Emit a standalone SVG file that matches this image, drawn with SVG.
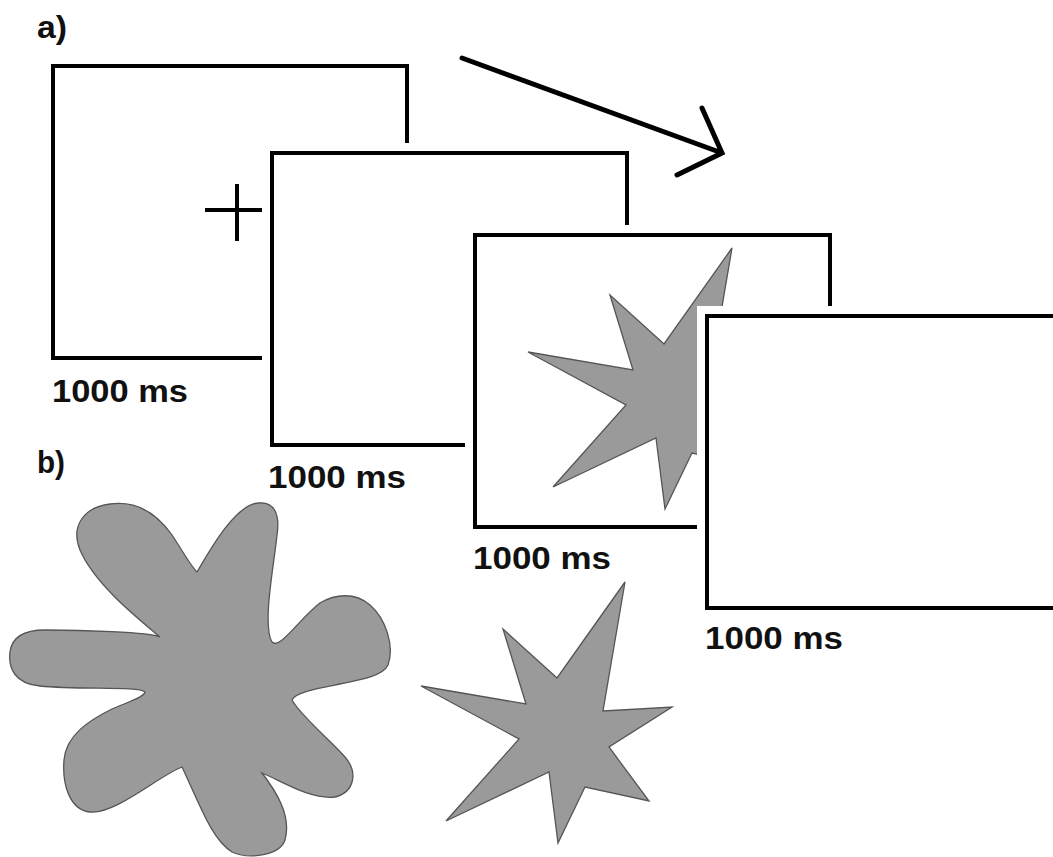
<svg xmlns="http://www.w3.org/2000/svg" width="1053" height="857" viewBox="0 0 1053 857">
<defs>
<style>
.frame{fill:#fff;stroke:#000;stroke-width:4}
.halo{fill:#fff;stroke:#fff;stroke-width:20}
.lbl{font-family:"Liberation Sans",Arial,sans-serif;font-weight:bold;font-size:32px;fill:#111}
.tag{font-family:"Liberation Sans",Arial,sans-serif;font-weight:bold;font-size:31px;fill:#111}
.shape{fill:#9a9a9a;stroke:#555;stroke-width:1.3;stroke-linejoin:miter}
</style>
<polygon id="star" points="625,582 557,678 503,629 526,704 421,686 519,739 446,821 549,772 558,843 585,787 649,801 609,747 672,707 603,711"/>
</defs>
<rect width="1053" height="857" fill="#fff"/>
<text class="tag" x="37" y="38" textLength="30" lengthAdjust="spacingAndGlyphs">a)</text>
<text class="tag" x="37" y="473" textLength="28" lengthAdjust="spacingAndGlyphs">b)</text>
<g id="frame1">
<rect class="halo" x="53" y="66" width="354" height="292"/>
<rect class="frame" x="53" y="66" width="354" height="292"/>
<path d="M205,210 H265 M237,184 V241" stroke="#000" stroke-width="4" fill="none"/>
<text class="lbl" x="52" y="402" textLength="136" lengthAdjust="spacingAndGlyphs">1000 ms</text>
</g>
<g id="frame2">
<rect class="halo" x="272" y="153" width="355" height="292"/>
<rect class="frame" x="272" y="153" width="355" height="292"/>
<text class="lbl" x="268" y="488" textLength="138" lengthAdjust="spacingAndGlyphs">1000 ms</text>
</g>
<g id="frame3">
<rect class="halo" x="475" y="235" width="355" height="292"/>
<rect class="frame" x="475" y="235" width="355" height="292"/>
<use href="#star" class="shape" transform="translate(107,-334)"/>
<text class="lbl" x="473" y="569" textLength="138" lengthAdjust="spacingAndGlyphs">1000 ms</text>
</g>
<g id="frame4">
<rect class="halo" x="707" y="316" width="380" height="292"/>
<rect class="frame" x="707" y="316" width="380" height="292"/>
<text class="lbl" x="705" y="649" textLength="138" lengthAdjust="spacingAndGlyphs">1000 ms</text>
</g>
<g id="connectors">
<path d="M462,58 L722,153 M702,108 L722,153 L677,175" stroke="#000" stroke-width="5" fill="none" stroke-linecap="round" stroke-linejoin="miter"/>
</g>
<g id="blob">
<path class="shape" d="M197,572 C210,550 235,505 258,503 C275,501 280,515 277,535 C274,565 262,625 272,642 C280,650 300,618 320,603 C335,594 355,592 370,605 C385,618 395,645 388,665 C383,676 360,680 340,684 C320,688 295,692 292,700 C300,715 330,740 345,757 C358,772 355,792 335,797 C310,800 280,780 262,773 C275,790 292,815 285,840 C280,855 250,860 232,852 C212,840 200,805 182,767 C160,775 115,815 90,812 C70,810 62,785 64,760 C66,735 90,720 110,710 C125,703 145,697 145,692 C140,686 80,690 40,686 C15,684 8,668 10,652 C12,636 25,630 45,630 C80,630 150,632 160,637 C140,620 95,585 80,550 C70,525 85,507 110,504 C140,500 160,518 172,535 C182,550 190,565 197,572 Z"/>
</g>
<g id="star2">
<use href="#star" class="shape"/>
</g>
</svg>
